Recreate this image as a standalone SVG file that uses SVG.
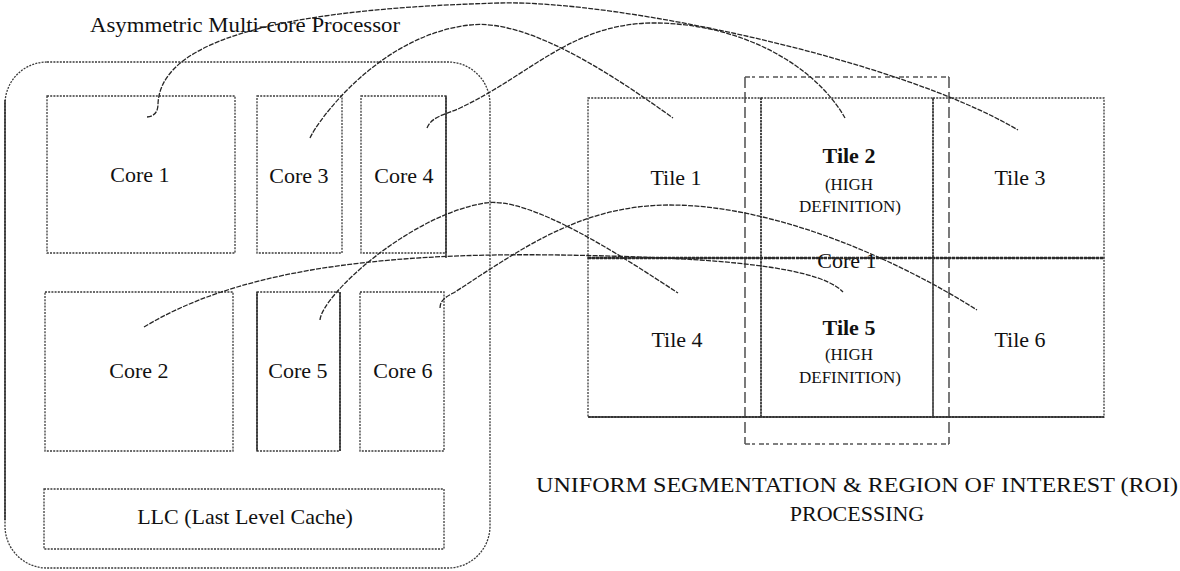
<svg xmlns="http://www.w3.org/2000/svg" width="1180" height="571" viewBox="0 0 1180 571">
  <style>
    .box { fill: none; stroke: #3a3a3a; stroke-width: 1.3; stroke-dasharray: 2 1.2; }
    .solid { fill: none; stroke: #222; stroke-width: 1.4; }
    .mid { fill: none; stroke: #2a2a2a; stroke-width: 2.6; stroke-dasharray: 3 1; }
    .roi-v { fill: none; stroke: #333; stroke-width: 1.3; stroke-dasharray: 11 4; }
    .roi-h { fill: none; stroke: #555; stroke-width: 1.3; stroke-dasharray: 5 2 3 4; }
    .link { fill: none; stroke: #262626; stroke-width: 1.3; stroke-dasharray: 5 1.3; }
    .t { font-family: "Liberation Serif", "Times New Roman", serif; font-size: 22px; fill: #111; text-anchor: middle; }
    .b { font-weight: bold; }
    .s { font-size: 17px; }
  </style>

  <!-- processor package -->
  <g id="processor">
    <rect class="box" x="5" y="62" width="485" height="506" rx="42" ry="42"/>
    <line class="solid" x1="5" y1="100" x2="5" y2="520"/>
    <text class="t" x="245" y="32" font-size="21.5" textLength="310" lengthAdjust="spacingAndGlyphs">Asymmetric Multi-core Processor</text>
  </g>

  <g id="core1">
    <rect class="box" x="47" y="96" width="188" height="157"/>
    <text class="t" x="140" y="182">Core 1</text>
  </g>
  <g id="core3">
    <rect class="box" x="257" y="96" width="85" height="157"/>
    <text class="t" x="299" y="183">Core 3</text>
  </g>
  <g id="core4">
    <rect class="box" x="361" y="96" width="85" height="157"/>
    <line class="solid" x1="446" y1="96" x2="446" y2="258"/>
    <text class="t" x="404" y="183">Core 4</text>
  </g>
  <g id="core2">
    <rect class="box" x="45" y="292" width="188" height="159"/>
    <text class="t" x="139" y="378">Core 2</text>
  </g>
  <g id="core5">
    <rect class="box" x="257" y="292" width="83" height="159"/>
    <line class="solid" x1="257" y1="292" x2="257" y2="451"/>
    <line class="solid" x1="340" y1="292" x2="340" y2="451"/>
    <text class="t" x="298" y="378">Core 5</text>
  </g>
  <g id="core6">
    <rect class="box" x="360" y="292" width="84" height="159"/>
    <text class="t" x="403" y="378">Core 6</text>
  </g>
  <g id="llc">
    <rect class="box" x="44" y="489" width="400" height="60"/>
    <text class="t" x="245" y="524" font-size="20">LLC (Last Level Cache)</text>
  </g>

  <!-- tiled frame -->
  <g id="tile1">
    <rect class="box" x="588" y="98" width="173" height="160"/>
    <text class="t" x="676" y="185">Tile 1</text>
  </g>
  <g id="tile2">
    <rect class="box" x="761" y="98" width="172" height="160"/>
    <text class="t b" x="849" y="163">Tile 2</text>
    <text class="t s" x="849" y="190">(HIGH</text>
    <text class="t s" x="850" y="212">DEFINITION)</text>
  </g>
  <g id="tile3">
    <rect class="box" x="933" y="98" width="171" height="160"/>
    <text class="t" x="1020" y="185">Tile 3</text>
  </g>
  <g id="tile4">
    <rect class="box" x="588" y="258" width="173" height="159"/>
    <text class="t" x="677" y="347">Tile 4</text>
  </g>
  <g id="tile5">
    <rect class="box" x="761" y="258" width="172" height="159"/>
    <text class="t b" x="849" y="335">Tile 5</text>
    <text class="t s" x="849" y="360">(HIGH</text>
    <text class="t s" x="850" y="383">DEFINITION)</text>
  </g>
  <g id="tile6">
    <rect class="box" x="933" y="258" width="171" height="159"/>
    <text class="t" x="1020" y="347">Tile 6</text>
  </g>
  <g id="grid-lines">
    <text class="t" x="847" y="268">Core 1</text>
    <line class="mid" x1="588" y1="258" x2="1104" y2="258"/>
    <line class="solid" x1="588" y1="417" x2="1104" y2="417" stroke-width="1.2"/>
    <line class="box" x1="761" y1="98" x2="761" y2="417" stroke-width="2"/>
    <line class="box" x1="933" y1="98" x2="933" y2="417" stroke-width="2"/>
  </g>

  <!-- region of interest -->
  <g id="roi">
    <line class="roi-v" x1="745" y1="77" x2="745" y2="444"/>
    <line class="roi-v" x1="949" y1="77" x2="949" y2="444"/>
    <line class="roi-h" x1="745" y1="77" x2="949" y2="77"/>
    <line class="roi-h" x1="745" y1="444" x2="949" y2="444"/>
  </g>

  <g id="caption">
    <text class="t" x="857" y="492" font-size="23" textLength="642" lengthAdjust="spacingAndGlyphs">UNIFORM SEGMENTATION &amp; REGION OF INTEREST (ROI)</text>
    <text class="t" x="857" y="521" font-size="23">PROCESSING</text>
  </g>

  <!-- core-to-tile assignments -->
  <g id="connectors">
    <path class="link" d="M147,117 Q158,116 158,104 C160,55 230,10 500,3 C620,0 900,60 1018,130"/>
    <path class="link" d="M310,138 C318,120 380,35 470,25 C530,18 620,80 673,118"/>
    <path class="link" d="M427,128 C432,116 445,115 460,108 C530,75 570,25 650,23 C740,22 815,65 845,118"/>
    <path class="link" d="M144,327 C230,275 360,252 560,255 C680,257 815,262 843,292"/>
    <path class="link" d="M320,320 C322,295 410,215 485,203 C530,196 620,255 678,293"/>
    <path class="link" d="M440,308 C440,299 448,296 455,292 C520,250 580,205 670,205 C770,205 890,255 977,310"/>
  </g>
</svg>
